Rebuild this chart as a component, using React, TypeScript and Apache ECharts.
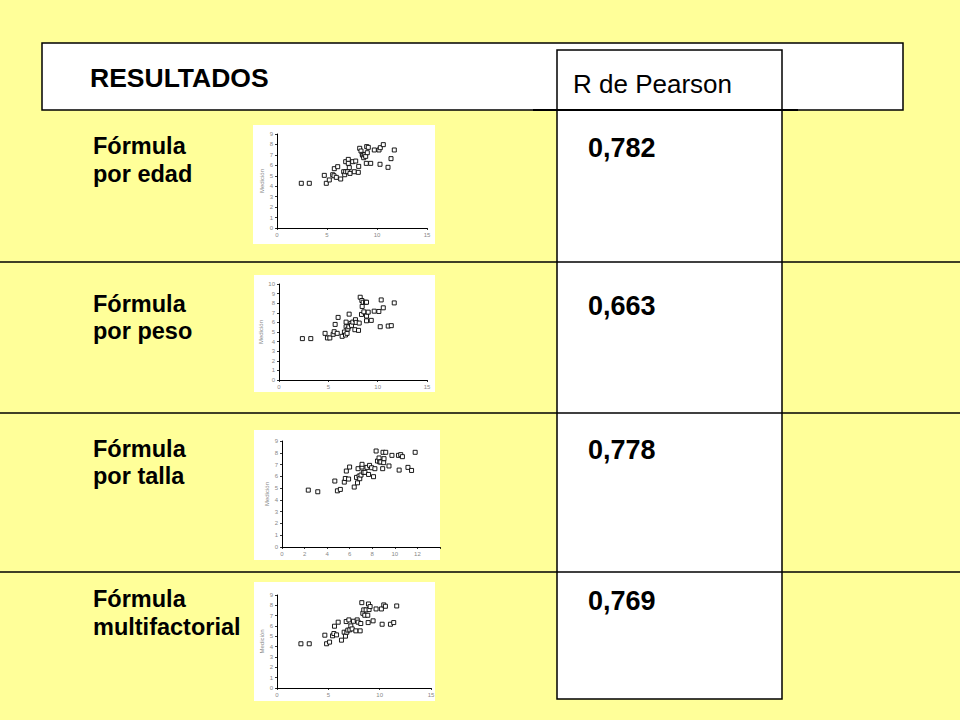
import React, { useEffect, useRef } from "react";
import * as echarts from "echarts";

// scatter points: [x, Medición]
const edadPoints: [number, number][] = [
  [2.43, 4.28], [3.23, 4.28], [4.73, 5.04], [4.93, 4.28], [5.23, 4.6], [5.57, 5.1],
  [5.7, 5.0], [5.73, 5.68], [6.07, 5.87], [5.93, 4.85], [6.37, 4.69], [6.67, 5.39],
  [6.77, 5.1], [6.87, 5.39], [6.87, 6.35], [7.07, 5.39], [7.13, 6.57], [7.13, 6.19],
  [7.23, 5.78], [7.3, 5.23], [7.57, 6.35], [7.73, 5.39], [7.87, 6.41], [8.13, 5.33],
  [8.17, 5.9], [8.27, 7.63], [8.4, 7.37], [8.53, 7.05], [8.6, 6.93], [8.67, 6.73],
  [8.77, 7.02], [8.87, 6.86], [8.97, 7.79], [8.93, 6.19], [9.03, 7.21], [9.13, 7.72],
  [9.37, 6.19], [9.73, 7.47], [10.2, 7.47], [10.33, 7.69], [10.3, 6.1], [10.63, 7.98],
  [11.1, 5.81], [11.4, 6.64], [11.73, 7.47],
];

const pesoPoints: [number, number][] = [
  [2.37, 4.31], [3.22, 4.31], [4.67, 4.86], [4.91, 4.38], [5.15, 4.38], [5.49, 4.76],
  [5.59, 5.03], [5.69, 5.79], [5.9, 4.86], [5.99, 6.52], [6.4, 4.55], [6.63, 5.0],
  [6.74, 4.69], [6.8, 5.55], [6.8, 6.03], [6.9, 4.86], [6.98, 5.31], [7.08, 5.55],
  [7.11, 6.86], [7.28, 5.9], [7.35, 5.69], [7.48, 6.03], [7.69, 5.24], [7.75, 6.28],
  [7.82, 6.0], [8.06, 5.17], [8.13, 5.93], [8.23, 8.62], [8.36, 6.83], [8.4, 8.28],
  [8.43, 7.66], [8.53, 8.1], [8.6, 7.1], [8.77, 8.1], [8.87, 6.66], [8.87, 6.17],
  [8.87, 8.1], [9.04, 7.07], [9.35, 6.21], [9.65, 7.17], [10.12, 7.14], [10.26, 5.55],
  [10.36, 8.34], [10.57, 7.52], [11.07, 5.62], [11.38, 5.66], [11.68, 8.03],
];

const tallaPoints: [number, number][] = [
  [2.33, 4.83], [3.17, 4.69], [4.68, 5.6], [4.91, 4.77], [5.17, 4.89], [5.52, 5.51],
  [5.61, 5.82], [5.7, 6.45], [5.9, 5.77], [5.99, 6.79], [6.4, 5.09], [6.6, 5.91],
  [6.69, 5.45], [6.74, 6.65], [6.83, 6.02], [6.89, 5.8], [7.0, 6.11], [7.09, 6.79],
  [7.09, 7.02], [7.21, 6.34], [7.35, 6.34], [7.53, 6.76], [7.67, 6.16], [7.76, 6.93],
  [7.94, 6.73], [8.11, 5.97], [8.23, 6.65], [8.34, 8.15], [8.46, 7.3], [8.6, 7.56],
  [8.66, 7.22], [8.75, 7.22], [8.92, 6.65], [8.95, 8.04], [9.01, 7.16], [9.04, 7.5],
  [9.19, 8.04], [9.48, 6.88], [9.74, 7.78], [10.32, 7.78], [10.38, 6.53], [10.52, 7.84],
  [10.67, 7.67], [11.16, 6.76], [11.48, 6.5], [11.8, 8.04],
];

const multiPoints: [number, number][] = [
  [2.33, 4.28], [3.14, 4.28], [4.66, 5.11], [4.83, 4.28], [5.12, 4.44], [5.41, 5.05],
  [5.54, 5.27], [5.6, 5.98], [5.8, 5.14], [5.96, 6.37], [6.28, 4.63], [6.54, 5.4],
  [6.67, 5.02], [6.74, 6.43], [6.8, 5.4], [6.9, 5.6], [7.0, 6.59], [7.09, 5.63],
  [7.19, 6.01], [7.32, 5.72], [7.45, 6.46], [7.68, 5.53], [7.81, 6.59], [7.9, 6.37],
  [8.1, 5.53], [8.16, 6.24], [8.26, 8.26], [8.36, 7.23], [8.45, 7.56], [8.55, 7.04],
  [8.68, 7.56], [8.84, 7.04], [8.88, 6.33], [8.91, 8.13], [8.97, 7.59], [9.07, 7.88],
  [9.36, 6.5], [9.65, 7.65], [10.17, 7.65], [10.24, 6.17], [10.4, 8.04], [10.56, 7.91],
  [11.05, 6.17], [11.37, 6.33], [11.66, 7.94],
];

const rowLabels = ["por edad", "por peso", "por talla", "multifactorial"];
const pearsonValues = ["0,782", "0,663", "0,778", "0,769"];
const xMax = [15, 15, 14, 15];
const xInterval = [5, 5, 2, 5];
const yMax = [9, 10, 9, 9];

const YELLOW = "#FFFF99";
const FONT = "Arial, 'Liberation Sans', sans-serif";

// plot-area boxes (left, top, width, height) and the white picture behind each
const grids = [
  { left: 277, top: 134, width: 150, height: 94 },
  { left: 279, top: 284, width: 148, height: 96 },
  { left: 282, top: 441, width: 158, height: 106 },
  { left: 277, top: 595, width: 154, height: 93 },
];
const pictures = [
  { x: 253, y: 125, width: 182, height: 119 },
  { x: 254, y: 275, width: 181, height: 117 },
  { x: 254, y: 430, width: 186, height: 130 },
  { x: 254, y: 582, width: 181, height: 119 },
];
const labelBaselines = [
  [154, 182],
  [312, 339],
  [457, 484],
  [607, 635],
];
const valueBaselines = [157, 315, 459, 610];
const separators = [262, 413, 572];

export default function App() {
  const chartRef = useRef<HTMLDivElement>(null);

  useEffect(() => {
    if (!chartRef.current) return;
    const chart = echarts.init(chartRef.current, undefined, { renderer: "svg" });

    const allPoints = [edadPoints, pesoPoints, tallaPoints, multiPoints];

    const graphic: any[] = [];
    // header band
    graphic.push({
      type: "rect",
      z: -20,
      shape: { x: 42, y: 43, width: 861, height: 67 },
      style: { fill: "#fff", stroke: "#000", lineWidth: 1.5 },
    });
    // R de Pearson column
    graphic.push({
      type: "rect",
      z: -15,
      shape: { x: 557, y: 50, width: 225, height: 649 },
      style: { fill: "#fff", stroke: "#000", lineWidth: 1.5 },
    });
    graphic.push({
      type: "line",
      z: 5,
      shape: { x1: 533, y1: 110, x2: 798, y2: 110 },
      style: { stroke: "#000", lineWidth: 2 },
    });
    separators.forEach((y) =>
      graphic.push({
        type: "line",
        z: 5,
        shape: { x1: 0, y1: y, x2: 960, y2: y },
        style: { stroke: "#000", lineWidth: 1.3 },
      })
    );
    pictures.forEach((p) =>
      graphic.push({
        type: "rect",
        z: -10,
        shape: p,
        style: { fill: "#fff" },
      })
    );
    graphic.push({
      type: "text",
      z: 6,
      x: 90,
      y: 78,
      style: { text: "RESULTADOS", fill: "#000", fontSize: 26.5, fontWeight: "bold", fontFamily: FONT, verticalAlign: "middle" },
    });
    graphic.push({
      type: "text",
      z: 6,
      x: 573,
      y: 84,
      style: { text: "R de Pearson", fill: "#000", fontSize: 26, fontFamily: FONT, verticalAlign: "middle" },
    });
    rowLabels.forEach((lab, i) => {
      graphic.push({
        type: "text",
        z: 6,
        x: 93,
        y: labelBaselines[i][0] - 8,
        style: { text: "Fórmula", fill: "#000", fontSize: 23.5, fontWeight: "bold", fontFamily: FONT, verticalAlign: "middle" },
      });
      graphic.push({
        type: "text",
        z: 6,
        x: 93,
        y: labelBaselines[i][1] - 8,
        style: { text: lab, fill: "#000", fontSize: 23.5, fontWeight: "bold", fontFamily: FONT, verticalAlign: "middle" },
      });
      graphic.push({
        type: "text",
        z: 6,
        x: 588,
        y: valueBaselines[i] - 9.4,
        style: { text: pearsonValues[i], fill: "#000", fontSize: 27, fontWeight: "bold", fontFamily: FONT, verticalAlign: "middle" },
      });
    });

    const axisCommon = {
      axisLine: { show: true, onZero: false, lineStyle: { color: "#000", width: 1 } },
      axisTick: { show: true, length: 2, lineStyle: { color: "#000", width: 0.8 } },
      axisLabel: { fontSize: 6, color: "#888", margin: 4, fontFamily: FONT },
      splitLine: { show: false },
    };

    const option: echarts.EChartsOption = {
      animation: false,
      backgroundColor: YELLOW,
      graphic,
      grid: grids.map((g) => ({ ...g, containLabel: false })),
      xAxis: grids.map((_, i) => ({
        type: "value",
        gridIndex: i,
        min: 0,
        max: xMax[i],
        interval: xInterval[i],
        ...axisCommon,
        axisLabel: {
          ...axisCommon.axisLabel,
          formatter: (v: number) => (i === 2 && v === 14 ? "" : String(v)),
        },
      })),
      yAxis: grids.map((_, i) => ({
        type: "value",
        gridIndex: i,
        min: 0,
        max: yMax[i],
        interval: 1,
        name: "Medición",
        nameLocation: "middle",
        nameGap: 12,
        nameRotate: 90,
        nameTextStyle: { fontSize: 6, color: "#888", fontFamily: FONT },
        ...axisCommon,
      })),
      series: allPoints.map((pts, i) => ({
        type: "scatter",
        xAxisIndex: i,
        yAxisIndex: i,
        symbol: "rect",
        symbolSize: 4,
        data: pts,
        itemStyle: { color: "#fff", borderColor: "#000", borderWidth: 0.9, opacity: 1 },
      })),
    };

    chart.setOption(option);

    return () => {
      chart.dispose();
    };
  }, []);

  return (
    <div
      ref={chartRef}
      style={{ position: "fixed", left: 0, top: 0, width: 960, height: 720 }}
    />
  );
}
